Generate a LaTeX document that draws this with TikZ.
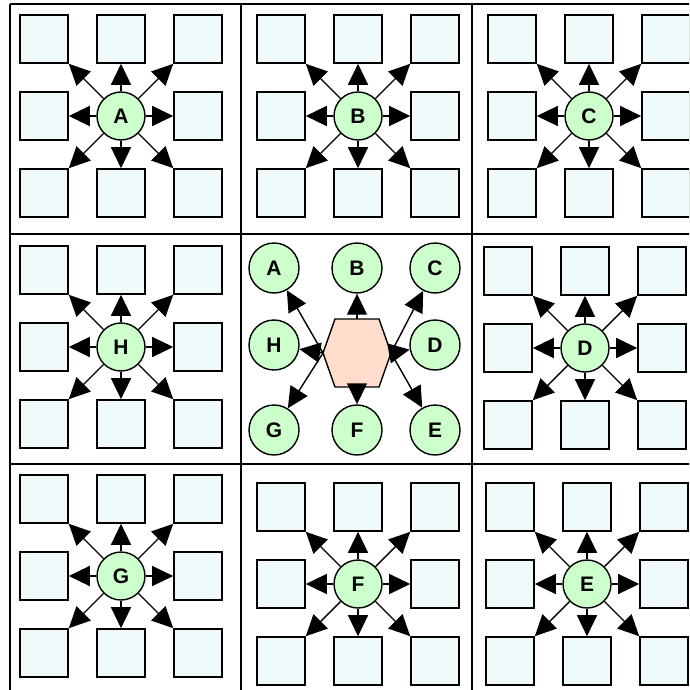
\documentclass[tikz,border=0pt]{standalone}
\usepackage{fontspec}
\setmainfont{Liberation Sans}
\usetikzlibrary{arrows.meta}
\definecolor{boxfill}{RGB}{240,250,250}
\definecolor{hubfill}{RGB}{204,255,204}
\definecolor{hexfill}{RGB}{255,221,204}
\tikzset{
  leafbox/.style={draw,line width=1.6pt,fill=boxfill,minimum size=48pt,inner sep=0pt},
  hub/.style={circle,draw,line width=1.4pt,fill=hubfill,minimum size=48pt,inner sep=0pt,
    font=\fontsize{21}{21}\selectfont\bfseries},
  fan/.style={-{Triangle[length=21pt,width=20pt]},line width=1.4pt}
}
\begin{document}
\begin{tikzpicture}[x=1pt,y=-1pt]
      \useasboundingbox (0,0) rectangle (689,690);
      \clip (0,0) rectangle (689,690);
      % grid
      \foreach \x in {10,241,472}
      {\draw[line width=2.2pt] (\x,4) -- (\x,700);}
      \foreach \y in {4,234,464}
      {\draw[line width=2.2pt] (10,\y) -- (700,\y);}
      % outer cells
      \foreach \name/\cx/\cy in {A/121/116,B/358/116,C/589/116,H/121/347,D/585/348,G/121/576,F/358/584,E/587/584}
      {\node[hub] (\name) at (\cx,\cy) {\name};
      \foreach \dir/\dx/\dy/\tip in {nw/-77/-77/south east,n/0/-77/south,ne/77/-77/south west,w/-77/0/east,e/77/0/west,sw/-77/77/north east,s/0/77/north,se/77/77/north west}
      {\node[leafbox] (\name-\dir) at ({\cx+(\dx)},{\cy+(\dy)}) {};
      \draw[fan] (\name) -- (\name-\dir.\tip);}}
      % middle cell
      \coordinate (hex-w) at (323,353);
      \coordinate (hex-nw) at (335,319);
      \coordinate (hex-ne) at (379,319);
      \coordinate (hex-e) at (391,353);
      \coordinate (hex-se) at (379,387);
      \coordinate (hex-sw) at (335,387);
      \coordinate (hex-n) at (357,319);
      \coordinate (hex-s) at (357,387);
      \draw[line width=1.4pt,fill=hexfill] (hex-w) -- (hex-nw) -- (hex-ne) -- (hex-e) -- (hex-se) -- (hex-sw) -- cycle;
      \foreach \name/\cx/\cy/\from in {A/274/268/w,B/357/268/n,C/435/268/e,H/274/345/w,D/435/345/e,G/274/430/w,F/357/430/s,E/435/430/e}
      {\node[hub,minimum size=50pt] (mid-\name) at (\cx,\cy) {\name};
      \draw[fan] (hex-\from) -- (mid-\name);}
    \end{tikzpicture}
\end{document}
